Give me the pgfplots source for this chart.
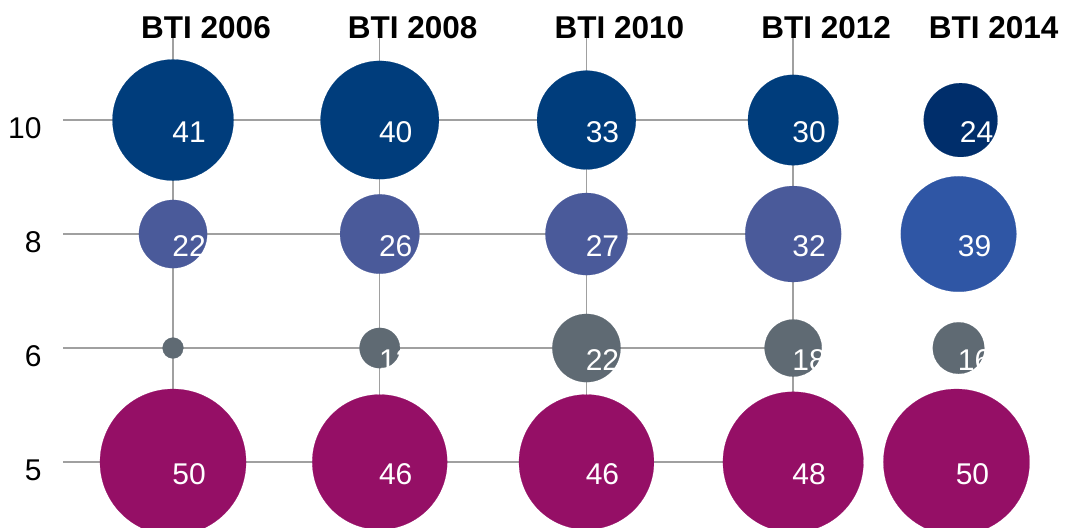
\documentclass[border=0pt]{standalone}
\usepackage{pgfplots}
\usepackage{pgfplotstable}
\pgfplotsset{compat=1.18}
\usepackage{fontspec}
\setmainfont{Liberation Sans}
\definecolor{navy}{HTML}{003D7C}
\definecolor{navydark}{HTML}{002E6B}
\definecolor{slate}{HTML}{4A5A9A}
\definecolor{brightblue}{HTML}{2F56A5}
\definecolor{slategray}{HTML}{5F6A73}
\definecolor{plum}{HTML}{950F66}
\definecolor{gridgray}{HTML}{A0A0A0}
% x: column (0=2006 ... 3=2012, 3.8=2014), y: row (0=5, 1=6, 2=8, 3=10), v: value
\pgfplotstableread{
x y v
0 3 41
1 3 40
2 3 33
3 3 30
}\tabTen
\pgfplotstableread{
x y v
3.81 3 24
}\tabTenB
\pgfplotstableread{
x y v
0 2 22
1 2 26
2 2 27
3 2 32
}\tabEight
\pgfplotstableread{
x y v
3.80 2 39
}\tabEightB
\pgfplotstableread{
x y v
0 1 5
1 1 12
2 1 22
3 1 18
3.80 1 16
}\tabSix
\pgfplotstableread{
x y v
0 0 50
1 0 46
2 0 46
3 0 48
3.79 0 50
}\tabFive
\pgfplotsset{
  gl/.style={forget plot, gridgray, line width=0.75pt, mark=none},
  bub/.style={scatter, only marks, mark=*, scatter src=explicit,
    mark options={draw=#1, fill=#1, line width=0.1pt},
    scatter/use mapped color={draw=#1, fill=#1},
    visualization depends on={(3.5+1.39*\thisrow{v})*0.5 \as \bubrad},
    scatter/@pre marker code/.append style={/tikz/mark size=\bubrad pt}},
  lab/.style={only marks, mark=none, point meta=explicit,
    nodes near coords={\pgfmathprintnumber[assume math mode=true]{\pgfplotspointmeta}},
    nodes near coords style={white, anchor=center, inner sep=0pt, xshift=8pt, yshift=-6pt,
      font=\fontsize{15}{18}\selectfont}}
}
\begin{document}
\begin{tikzpicture}
\begin{axis}[
  name=main,
  scale only axis, width=532.5pt, height=263.5pt,
  xmin=-0.837, xmax=4.315, ymin=-0.570, ymax=4.053,
  axis line style={draw=none}, major tick length=0pt,
  xtick={0,1,2,3,3.81},
  xticklabels={BTI 2006,BTI 2008,BTI 2010,BTI 2012,BTI 2014},
  xticklabel pos=upper,
  xticklabel style={anchor=center, inner sep=0pt, yshift=-14pt, xshift=16.5pt,
    font=\fontsize{15.75}{18}\selectfont\bfseries},
  ytick={0,1,2,3}, yticklabels={5,6,8,10},
  yticklabel style={anchor=east, inner sep=0pt, xshift=21pt, yshift=-4.25pt,
    font=\fontsize{15}{18}\selectfont},
]
% grid lines
\addplot[gl] coordinates {(-0.532,3) (3,3)};
\addplot[gl] coordinates {(-0.532,2) (3,2)};
\addplot[gl] coordinates {(-0.532,1) (3,1)};
\addplot[gl] coordinates {(-0.532,0) (3,0)};
\addplot[gl] coordinates {(0,-0.6) (0,3.72)};
\addplot[gl] coordinates {(1,-0.6) (1,3.72)};
\addplot[gl] coordinates {(2,-0.6) (2,3.72)};
\addplot[gl] coordinates {(3,-0.6) (3,3.72)};
% bubbles
\addplot[bub=navy] table[x=x,y=y,meta=v]{\tabTen};
\addplot[bub=navydark] table[x=x,y=y,meta=v]{\tabTenB};
\addplot[bub=slate] table[x=x,y=y,meta=v]{\tabEight};
\addplot[bub=brightblue] table[x=x,y=y,meta=v]{\tabEightB};
\addplot[bub=slategray] table[x=x,y=y,meta=v]{\tabSix};
\addplot[bub=plum] table[x=x,y=y,meta=v]{\tabFive};
% value labels
\addplot[lab] table[x=x,y=y,meta=v]{\tabTen};
\addplot[lab] table[x=x,y=y,meta=v]{\tabTenB};
\addplot[lab] table[x=x,y=y,meta=v]{\tabEight};
\addplot[lab] table[x=x,y=y,meta=v]{\tabEightB};
\addplot[lab] table[x=x,y=y,meta=v]{\tabSix};
\addplot[lab] table[x=x,y=y,meta=v]{\tabFive};
\end{axis}
\pgfresetboundingbox
\useasboundingbox (main.south west) rectangle (main.north east);
\end{tikzpicture}
\end{document}
